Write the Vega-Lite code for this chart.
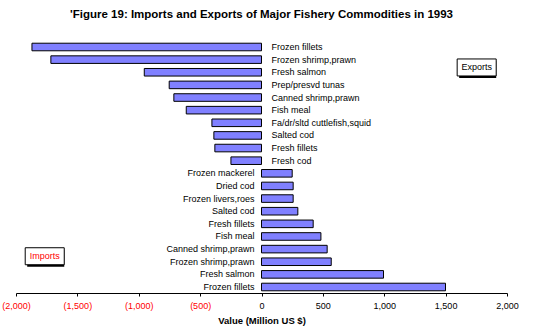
{
  "$schema": "https://vega.github.io/schema/vega-lite/v6.json",
  "width": 491,
  "height": 252,
  "autosize": "none",
  "padding": {"left": 16, "top": 41, "right": 42, "bottom": 43},
  "background": "white",
  "title": {
    "text": "'Figure 19: Imports and Exports of Major Fishery Commodities in 1993",
    "font": "Liberation Sans",
    "fontSize": 11.5,
    "fontWeight": "bold",
    "color": "black",
    "anchor": "middle",
    "offset": 21
  },
  "config": {"view": {"stroke": null}},
  "data": {
    "values": [
      {"rank": 1, "flow": "Exports", "commodity": "Frozen fillets", "value": -1870},
      {"rank": 2, "flow": "Exports", "commodity": "Frozen shrimp,prawn", "value": -1716},
      {"rank": 3, "flow": "Exports", "commodity": "Fresh salmon", "value": -955},
      {"rank": 4, "flow": "Exports", "commodity": "Prep/presvd tunas", "value": -752},
      {"rank": 5, "flow": "Exports", "commodity": "Canned shrimp,prawn", "value": -714},
      {"rank": 6, "flow": "Exports", "commodity": "Fish meal", "value": -613},
      {"rank": 7, "flow": "Exports", "commodity": "Fa/dr/sltd cuttlefish,squid", "value": -404},
      {"rank": 8, "flow": "Exports", "commodity": "Salted cod", "value": -388},
      {"rank": 9, "flow": "Exports", "commodity": "Fresh fillets", "value": -380},
      {"rank": 10, "flow": "Exports", "commodity": "Fresh cod", "value": -249},
      {"rank": 11, "flow": "Imports", "commodity": "Frozen mackerel", "value": 250},
      {"rank": 12, "flow": "Imports", "commodity": "Dried cod", "value": 258},
      {"rank": 13, "flow": "Imports", "commodity": "Frozen livers,roes", "value": 258},
      {"rank": 14, "flow": "Imports", "commodity": "Salted cod", "value": 296},
      {"rank": 15, "flow": "Imports", "commodity": "Fresh fillets", "value": 421},
      {"rank": 16, "flow": "Imports", "commodity": "Fish meal", "value": 484},
      {"rank": 17, "flow": "Imports", "commodity": "Canned shrimp,prawn", "value": 535},
      {"rank": 18, "flow": "Imports", "commodity": "Frozen shrimp,prawn", "value": 568},
      {"rank": 19, "flow": "Imports", "commodity": "Fresh salmon", "value": 994},
      {"rank": 20, "flow": "Imports", "commodity": "Frozen fillets", "value": 1499}
    ]
  },
  "encoding": {
    "y": {
      "field": "rank",
      "type": "ordinal",
      "axis": null,
      "scale": {"paddingInner": 0.4, "paddingOuter": 0.175}
    }
  },
  "layer": [
    {
      "mark": {"type": "bar", "fill": "#8080FF", "stroke": "black", "strokeWidth": 1},
      "encoding": {
        "x": {
          "field": "value",
          "type": "quantitative",
          "scale": {"domain": [-2000, 2000], "nice": false, "zero": false},
          "axis": {
            "values": [-2000, -1500, -1000, -500, 0, 500, 1000, 1500, 2000],
            "grid": false,
            "domainColor": "black",
            "domainWidth": 1,
            "tickColor": "black",
            "tickSize": 3,
            "labelExpr": "datum.value < 0 ? '(' + format(-datum.value, ',') + ')' : format(datum.value, ',')",
            "labelColor": {"condition": {"test": "datum.value < 0", "value": "red"}, "value": "black"},
            "labelFont": "Liberation Sans",
            "labelFontSize": 9,
            "labelPadding": 5,
            "labelFlush": false,
            "title": "Value (Million US $)",
            "titleFont": "Liberation Sans",
            "titleFontSize": 9.5,
            "titleFontWeight": "bold",
            "titleColor": "black",
            "titlePadding": 5
          }
        }
      }
    },
    {
      "transform": [{"filter": "datum.flow == 'Exports'"}],
      "mark": {"type": "text", "align": "left", "dx": 10, "font": "Liberation Sans", "fontSize": 9, "color": "black"},
      "encoding": {
        "x": {"datum": 0, "type": "quantitative"},
        "text": {"field": "commodity"}
      }
    },
    {
      "transform": [{"filter": "datum.flow == 'Imports'"}],
      "mark": {"type": "text", "align": "right", "dx": -7, "font": "Liberation Sans", "fontSize": 9, "color": "black"},
      "encoding": {
        "x": {"datum": 0, "type": "quantitative"},
        "text": {"field": "commodity"}
      }
    },
    {
      "transform": [{"filter": "datum.rank == 3"}],
      "mark": {"type": "bar", "height": 17, "fill": "black", "xOffset": 2, "yOffset": -2.8},
      "encoding": {
        "x": {"datum": 1594, "type": "quantitative"},
        "x2": {"datum": 1912}
      }
    },
    {
      "transform": [{"filter": "datum.rank == 3"}],
      "mark": {"type": "bar", "height": 17, "fill": "white", "stroke": "black", "strokeWidth": 1, "yOffset": -4.8},
      "encoding": {
        "x": {"datum": 1594, "type": "quantitative"},
        "x2": {"datum": 1912}
      }
    },
    {
      "transform": [{"filter": "datum.rank == 3"}],
      "mark": {"type": "text", "align": "center", "dy": -4.8, "font": "Liberation Sans", "fontSize": 9, "color": "black"},
      "encoding": {
        "x": {"datum": 1753, "type": "quantitative"},
        "text": {"value": "Exports"}
      }
    },
    {
      "transform": [{"filter": "datum.rank == 18"}],
      "mark": {"type": "bar", "height": 17, "fill": "black", "xOffset": 2, "yOffset": -3.5},
      "encoding": {
        "x": {"datum": -1925, "type": "quantitative"},
        "x2": {"datum": -1607}
      }
    },
    {
      "transform": [{"filter": "datum.rank == 18"}],
      "mark": {"type": "bar", "height": 17, "fill": "white", "stroke": "black", "strokeWidth": 1, "yOffset": -5.5},
      "encoding": {
        "x": {"datum": -1925, "type": "quantitative"},
        "x2": {"datum": -1607}
      }
    },
    {
      "transform": [{"filter": "datum.rank == 18"}],
      "mark": {"type": "text", "align": "center", "dy": -5.5, "font": "Liberation Sans", "fontSize": 9, "color": "red"},
      "encoding": {
        "x": {"datum": -1766, "type": "quantitative"},
        "text": {"value": "Imports"}
      }
    }
  ]
}
